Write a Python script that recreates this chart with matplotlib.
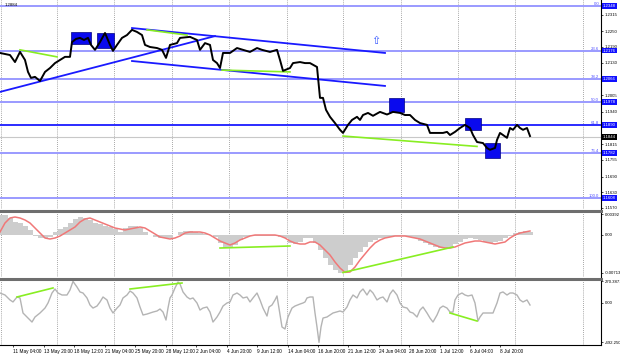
import numpy as np
import matplotlib.pyplot as plt
from matplotlib.patches import Rectangle

plt.rcParams['font.family'] = ['Liberation Sans', 'DejaVu Sans']

# ---- price (H4 closes, x = chart position) ----
price_x = [0, 5, 10, 15, 20, 25, 28, 31, 35, 40,
           45, 50, 55, 60, 65, 70, 72, 76, 80, 84,
           88, 91, 95, 100, 105, 110, 113, 117, 122, 127,
           132, 137, 142, 145, 150, 157, 162, 166, 170, 177,
           180, 190, 197, 200, 205, 210, 213, 217, 220, 223,
           230, 237, 243, 250, 257, 262, 270, 277, 280, 283,
           290, 293, 300, 305, 310, 317, 320, 323, 326, 330,
           335, 340, 343, 348, 352, 357, 360, 363, 368, 373,
           380, 387, 393, 400, 405, 410, 415, 420, 427, 430,
           437, 443, 447, 450, 455, 460, 465, 470, 473, 477,
           483, 487, 490, 495, 497, 500, 503, 507, 510, 513,
           517, 520, 523, 527, 530]
price = [1.2167, 1.2163, 1.2159, 1.2132, 1.2171, 1.2140, 1.2094, 1.2071, 1.2075, 1.2059,
         1.2094, 1.2109, 1.2128, 1.2140, 1.2152, 1.2152, 1.2209, 1.2221, 1.2225, 1.2217,
         1.2225, 1.2198, 1.2179, 1.2209, 1.2244, 1.2198, 1.2175, 1.2198, 1.2225, 1.2236,
         1.2256, 1.2248, 1.2236, 1.2198, 1.2190, 1.2186, 1.2179, 1.2148, 1.2198, 1.2205,
         1.2225, 1.2229, 1.2217, 1.2179, 1.2205, 1.2198, 1.2140, 1.2128, 1.2109, 1.2167,
         1.2167, 1.2186, 1.2179, 1.2171, 1.2186, 1.2179, 1.2171, 1.2179, 1.2140, 1.2098,
         1.2109, 1.2128, 1.2132, 1.2128, 1.2128, 1.2113, 1.1994, 1.1994, 1.1948, 1.1921,
         1.1897, 1.1871, 1.1859, 1.1890, 1.1909, 1.1921, 1.1909, 1.1928, 1.1936, 1.1925,
         1.1940, 1.1930, 1.1940, 1.1936, 1.1928, 1.1928, 1.1909, 1.1897, 1.1890, 1.1859,
         1.1859, 1.1859, 1.1863, 1.1851, 1.1863, 1.1878, 1.1890, 1.1878, 1.1851, 1.1824,
         1.1820, 1.1801, 1.1794, 1.1801, 1.1832, 1.1859, 1.1851, 1.1840, 1.1878, 1.1871,
         1.1890, 1.1878, 1.1871, 1.1878, 1.1847]
last_price = 1.1844

fib_levels = [1.2348, 1.2176, 1.2066, 1.1978, 1.1890, 1.1782, 1.1608]
fib_names = ['0.0', '23.6', '38.2', '50.0', '61.8', '76.4', '100.0']
price_ticks = [1.2315, 1.2250, 1.2190, 1.2130, 1.2005, 1.1940, 1.1815,
               1.1755, 1.1690, 1.1630, 1.1570]

# blue marker boxes: x0, x1, low, high
box_x0 = [71, 97, 389, 465, 485]
box_x1 = [91, 114, 404, 481, 500]
box_lo = [1.2202, 1.2185, 1.1941, 1.1871, 1.1763]
box_hi = [1.2249, 1.2243, 1.1995, 1.1917, 1.1820]

# trend lines (x0, y0, x1, y1)
blue_lines = [(0, 1.2017, 215, 1.2232),
              (132, 1.2263, 385, 1.2167),
              (132, 1.2136, 385, 1.2040)]
green_main = [(20, 1.2179, 57, 1.2152),
              (147, 1.2256, 187, 1.2236),
              (222, 1.2101, 290, 1.2094),
              (343, 1.1847, 477, 1.1807)]

# ---- MACD ----
macd_x = list(range(0, 531, 5))
macd_hist = [0.0038, 0.0038, 0.00323, 0.00247, 0.00228, 0.00171, 0.00095, -0.00019, -0.00057, -0.00057,
             -0.00038, 0.00057, 0.00114, 0.00152, 0.00228, 0.00304, 0.00342, 0.00323, 0.00285, 0.00228,
             0.00209, 0.00171, 0.00152, 0.00114, 0.00057, 0.00133, 0.00171, 0.00171, 0.00133, 0.00057,
             0.0, -0.00038, -0.00057, -0.00057, -0.00057, 0.0, 0.00057, 0.00076, 0.00076, 0.00057,
             0.00038, 0.00019, 0.0, -0.00038, -0.00152, -0.00247, -0.00247, -0.0019, -0.00095, -0.00038,
             -0.00019, -0.00019, -0.00019, -0.00019, -0.00019, -0.00019, -0.00038, -0.00057, -0.00152, -0.00171,
             -0.00133, -0.00057, -0.00057, -0.00152, -0.00285, -0.00437, -0.0057, -0.00665, -0.00713, -0.00703,
             -0.0057, -0.00437, -0.00323, -0.00228, -0.00133, -0.00095, -0.00057, -0.00057, -0.00038, -0.00019,
             -0.00019, -0.00019, -0.00038, -0.00057, -0.00114, -0.00152, -0.0019, -0.00228, -0.00247, -0.00247,
             -0.00228, -0.00171, -0.00133, -0.00076, -0.00057, -0.00076, -0.00095, -0.00133, -0.00152, -0.00133,
             -0.00114, -0.00057, -0.00019, 0.00038, 0.00057, 0.00076, 0.00057]
macd_signal = [0.00057, 0.00228, 0.00323, 0.00342, 0.00323, 0.00285, 0.00228, 0.00133, 0.00038, -0.00057,
               -0.00076, -0.00057, -0.00019, 0.00038, 0.00095, 0.00152, 0.00247, 0.00304, 0.00323, 0.00285,
               0.00247, 0.00209, 0.00171, 0.00133, 0.00114, 0.00095, 0.00114, 0.00133, 0.00152, 0.00133,
               0.00076, 0.00019, -0.00038, -0.00057, -0.00076, -0.00057, -0.00019, 0.00038, 0.00057, 0.00057,
               0.00057, 0.00038, 0.0, -0.00057, -0.00114, -0.00152, -0.0019, -0.00152, -0.00095, -0.00057,
               -0.00019, 0.0, 0.0, 0.0, 0.0, 0.0, -0.00019, -0.00057, -0.00114, -0.00152,
               -0.00171, -0.00171, -0.00133, -0.00133, -0.0019, -0.00285, -0.0038, -0.00513, -0.00627, -0.0071,
               -0.00703, -0.00608, -0.00475, -0.00361, -0.00247, -0.00152, -0.00095, -0.00057, -0.00038, -0.00019,
               -0.00019, -0.00019, -0.00038, -0.00057, -0.00076, -0.00114, -0.00152, -0.0019, -0.00228, -0.00247,
               -0.00247, -0.00228, -0.0019, -0.00152, -0.00133, -0.00114, -0.00114, -0.00133, -0.00152, -0.00171,
               -0.00152, -0.00133, -0.00057, 0.0, 0.00038, 0.00057, 0.00076]
green_macd = [(220, -0.00247, 290, -0.00209),
              (343, -0.00713, 453, -0.00228)]

# ---- CCI ----
cci_x = [0, 5, 10, 13, 17, 20, 23, 27, 30, 32,
         35, 40, 45, 48, 52, 55, 58, 62, 67, 70,
         73, 77, 80, 83, 87, 90, 93, 97, 100, 103,
         107, 110, 113, 117, 120, 123, 127, 130, 133, 137,
         140, 143, 147, 150, 153, 157, 160, 163, 166, 168,
         170, 172, 175, 178, 180, 183, 187, 190, 193, 197,
         200, 203, 207, 210, 213, 217, 220, 223, 227, 230,
         233, 237, 240, 243, 247, 250, 253, 257, 260, 263,
         267, 269, 272, 275, 277, 280, 282, 285, 288, 292,
         295, 300, 303, 305, 307, 310, 313, 315, 317, 319,
         321, 323, 327, 333, 340, 343, 347, 350, 353, 357,
         360, 363, 367, 370, 373, 377, 380, 383, 387, 390,
         393, 397, 400, 403, 407, 410, 413, 417, 420, 423,
         427, 430, 433, 437, 440, 443, 447, 450, 453, 455,
         458, 462, 465, 468, 472, 475, 478, 480, 483, 487,
         490, 493, 497, 500, 503, 507, 510, 513, 517, 520,
         523, 527, 530]
cci = [125, 100, 38, 13, 75, 63, -125, -175, -213, -238,
       -175, -125, -63, 0, 125, 175, 125, 100, 100, 163,
       270, 200, 138, 125, 63, -25, -63, -38, 13, 75,
       38, -63, -125, -63, -25, 63, 100, 150, 125, 63,
       -50, -150, -138, -125, -113, -100, -75, -113, -213, -63,
       63, 100, 188, 262, 238, 138, 75, 50, 63, 0,
       -88, -63, -50, -113, -238, -175, -113, -38, 0, 13,
       100, 125, 100, 63, 75, 13, 63, 125, 38, -63,
       -163, -50, -25, 38, 88, -150, -300, -325, -175, -63,
       -38, -13, 0, 13, 63, 75, 75, -125, -300, -492,
       -300, -188, -175, -125, -100, -113, -50, 38, 100, 63,
       138, 175, 100, 163, 125, 38, 63, 75, 13, 113,
       163, 100, 0, -50, -63, -113, -125, -175, -88, -50,
       -125, -188, -238, -150, -63, -38, -63, -113, -113, 38,
       100, 125, 100, 88, 100, 0, -225, -175, -125, -125,
       -125, -125, 0, 125, 138, 100, 125, 125, 100, 38,
       13, 38, -25]
green_cci = [(17, 75, 53, 188),
             (130, 175, 182, 250),
             (450, -125, 477, -225)]

grid_x = [1, 57, 114, 172, 229, 287, 343, 401, 458, 515, 583]
date_pos = [-17, 13, 44, 74, 105, 135, 166, 196, 227, 257, 288, 318, 348, 379, 409, 440, 470, 500]
date_labels = ['7 May 12:00', '11 May 04:00', '13 May 20:00', '18 May 12:00', '21 May 04:00',
               '25 May 20:00', '28 May 12:00', '2 Jun 04:00', '4 Jun 20:00', '9 Jun 12:00',
               '14 Jun 04:00', '16 Jun 20:00', '21 Jun 12:00', '24 Jun 04:00', '28 Jun 20:00',
               '1 Jul 12:00', '6 Jul 04:00', '8 Jul 20:00']

FS = 3.1
W, H = 620, 357
fig = plt.figure(figsize=(6.2, 3.57), dpi=100)
ax1 = fig.add_axes([0, 148 / H, 601 / W, 209 / H])
ax2 = fig.add_axes([0, 80 / H, 601 / W, 66 / H])
ax3 = fig.add_axes([0, 12 / H, 601 / W, 66 / H])

for ax in (ax1, ax2, ax3):
    ax.set_xlim(0, 601)
    for s in ('left', 'top', 'bottom'):
        ax.spines[s].set_visible(False)
    ax.spines['right'].set_color('black')
    ax.spines['right'].set_linewidth(0.8)
    ax.yaxis.tick_right()
    ax.tick_params(axis='y', length=1.5, width=0.5, labelsize=FS, pad=1.2)
    ax.tick_params(axis='x', bottom=False, labelbottom=False)
    for gx in grid_x:
        ax.axvline(gx, color='#8a8a8a', lw=0.6, ls=(0, (1, 1.5)), zorder=0)

# main panel
ax1.set_ylim(1.1566, 1.2371)
ax1.set_yticks(price_ticks)
ax1.set_yticklabels(['%.4f' % v for v in price_ticks])
for lvl, nm in zip(fib_levels, fib_names):
    c = '#2b2bff' if nm == '61.8' else '#9a9aff'
    ax1.axhline(lvl, color=c, lw=1.4, zorder=1)
    ax1.text(599, lvl, nm, ha='right', va='bottom', fontsize=FS, color='#5050ff')
    ax1.text(1.003, lvl, '%.4f' % lvl, transform=ax1.get_yaxis_transform(), ha='left',
             va='center', fontsize=FS, color='white', clip_on=False,
             bbox=dict(boxstyle='square,pad=0.2', fc='#1010ff', ec='none'))
ax1.axhline(last_price, color='#c8c8c8', lw=0.8, zorder=1)
ax1.text(1.003, last_price, '%.4f' % last_price, transform=ax1.get_yaxis_transform(), ha='left',
         va='center', fontsize=FS, color='white', clip_on=False,
         bbox=dict(boxstyle='square,pad=0.2', fc='black', ec='none'))

for x0, x1, lo, hi in zip(box_x0, box_x1, box_lo, box_hi):
    ax1.add_patch(Rectangle((x0, lo), x1 - x0, hi - lo, fc='#0a0aee', ec='#000080', lw=0.5, zorder=3))
for x0, y0, x1, y1 in blue_lines:
    ax1.plot([x0, x1], [y0, y1], color='#1a1aff', lw=1.3, zorder=2)
for x0, y0, x1, y1 in green_main:
    ax1.plot([x0, x1], [y0, y1], color='#88ee22', lw=1.2, zorder=2)
ax1.plot(price_x, price, color='black', lw=1.4, zorder=4)
ax1.text(376, 1.2213, '\u21e7', ha='center', va='center', fontsize=8, color='#3355ff',
         family=['DejaVu Sans'])
ax1.text(0.008, 0.985, '1.2884', transform=ax1.transAxes, ha='left', va='top', fontsize=FS)

# MACD panel
ax2.set_ylim(-0.00798, 0.00456)
ax2.set_yticks([0.00392, 0.0, -0.00713])
ax2.set_yticklabels(['0.00392', '0.00', '-0.00713'])
ax2.spines['top'].set_visible(True)
ax2.spines['top'].set_color('#6e6e6e')
ax2.spines['top'].set_linewidth(2.2)
ax2.bar(macd_x, macd_hist, width=5.0, color='#cdcdcd', linewidth=0, zorder=1)
ax2.plot(macd_x, macd_signal, color='#f07878', lw=1.1, zorder=3)
for x0, y0, x1, y1 in green_macd:
    ax2.plot([x0, x1], [y0, y1], color='#88ee22', lw=1.2, zorder=4)

# CCI panel
ax3.set_ylim(-525, 300)
ax3.set_yticks([270.3871, 0, -492.25])
ax3.set_yticklabels(['270.3871', '0.00', '-492.250'])
ax3.spines['top'].set_visible(True)
ax3.spines['top'].set_color('#6e6e6e')
ax3.spines['top'].set_linewidth(2.2)
ax3.spines['bottom'].set_visible(True)
ax3.spines['bottom'].set_linewidth(0.8)
ax3.plot(cci_x, cci, color='#b4b4b4', lw=1.0, zorder=2)
for x0, y0, x1, y1 in green_cci:
    ax3.plot([x0, x1], [y0, y1], color='#88ee22', lw=1.2, zorder=3)
ax3.set_xticks(date_pos)
ax3.set_xticklabels(date_labels)
ax3.tick_params(axis='x', bottom=True, labelbottom=True, length=1.5, width=0.5,
                labelsize=3.4, pad=1.5)
for lbl in ax3.get_xticklabels():
    lbl.set_ha('left')
ax3.set_xlim(0, 601)

fig.savefig('out.png', dpi=100)
